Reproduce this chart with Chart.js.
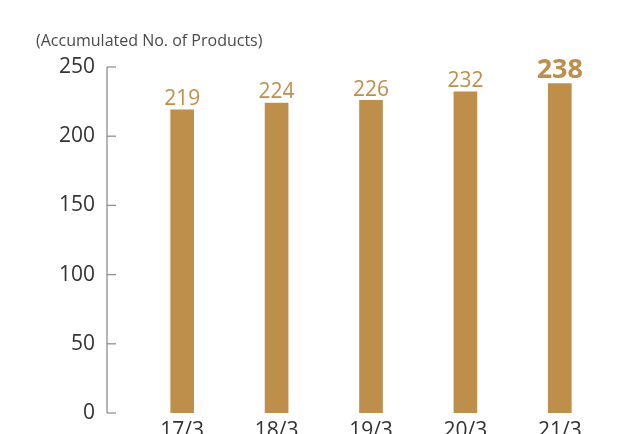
<!DOCTYPE html>
<html>
<head>
<meta charset="utf-8">
<script src="https://cdn.jsdelivr.net/npm/chart.js@4/dist/chart.umd.min.js"></script>
<style>
  html, body { margin: 0; padding: 0; background: #fff; }
  #wrap { width: 626px; height: 434px; position: relative; }
</style>
</head>
<body>
<div id="wrap"><canvas id="c" width="626" height="434"></canvas></div>
<script>
const categories = ['17/3', '18/3', '19/3', '20/3', '21/3'];
const products = [219, 224, 226, 232, 238];
const yTicks = [0, 50, 100, 150, 200, 250];
const unitLabel = '(Accumulated No. of Products)';

const BAR = '#be8e4b';
const FONT = '"Open Sans", "Noto Sans", sans-serif';

// Vertical axis line with inward-pointing tick marks, drawn left of the plot area
const axisPlugin = {
  id: 'axisLine',
  afterDraw(chart) {
    const { ctx, scales: { x, y }, chartArea } = chart;
    const x0 = chartArea.left - 28;
    ctx.save();
    ctx.strokeStyle = '#8e8e8e';
    ctx.lineWidth = 1.3;
    ctx.beginPath();
    ctx.moveTo(x0, y.getPixelForValue(250));
    ctx.lineTo(x0, y.getPixelForValue(0));
    ctx.stroke();
    yTicks.forEach(v => {
      const py = y.getPixelForValue(v);
      ctx.beginPath();
      ctx.moveTo(x0, py);
      ctx.lineTo(x0 + 9, py);
      ctx.stroke();
    });
    // unit caption
    ctx.fillStyle = '#4a4a4a';
    ctx.font = '16px ' + FONT;
    ctx.textAlign = 'left';
    ctx.textBaseline = 'middle';
    ctx.fillText(unitLabel, 36, 41);
    // category labels under the bars (partly below the canvas edge)
    ctx.fillStyle = '#333';
    ctx.font = '21px ' + FONT;
    ctx.textAlign = 'center';
    ctx.textBaseline = 'top';
    categories.forEach((c, i) => {
      ctx.fillText(c, x.getPixelForValue(i), chartArea.bottom + 8);
    });
    ctx.restore();
  }
};

// Value labels above each bar; the latest year is emphasised
const valuePlugin = {
  id: 'valueLabels',
  afterDatasetsDraw(chart) {
    const { ctx } = chart;
    const meta = chart.getDatasetMeta(0);
    ctx.save();
    ctx.fillStyle = BAR;
    ctx.textAlign = 'center';
    ctx.textBaseline = 'bottom';
    meta.data.forEach((bar, i) => {
      const last = i === products.length - 1;
      ctx.font = (last ? 'bold 27px ' : '21px ') + FONT;
      ctx.fillText(String(products[i]), bar.x, bar.y);
    });
    ctx.restore();
  }
};

new Chart(document.getElementById('c'), {
  type: 'bar',
  data: {
    labels: categories,
    datasets: [{
      data: products,
      backgroundColor: BAR,
      barThickness: 23,
      borderWidth: 0
    }]
  },
  options: {
    responsive: false,
    animation: false,
    layout: { padding: { top: 67, right: 19, left: 0, bottom: 21 } },
    plugins: { legend: { display: false }, tooltip: { enabled: false } },
    scales: {
      x: {
        offset: true,
        grid: { display: false, drawTicks: false },
        border: { display: false },
        ticks: { display: false },
        afterFit(s) { s.height = 0; s.paddingTop = 0; s.paddingBottom = 0; }
      },
      y: {
        min: 0, max: 250,
        afterBuildTicks(s) { s.ticks = yTicks.map(v => ({ value: v })); },
        grid: { display: false, drawTicks: false },
        border: { display: false },
        ticks: { color: '#333', font: { family: FONT, size: 21 }, padding: 40 },
        afterFit(s) { s.width = 135; s.paddingTop = 0; s.paddingBottom = 0; }
      }
    }
  },
  plugins: [axisPlugin, valuePlugin]
});
</script>
</body>
</html>
